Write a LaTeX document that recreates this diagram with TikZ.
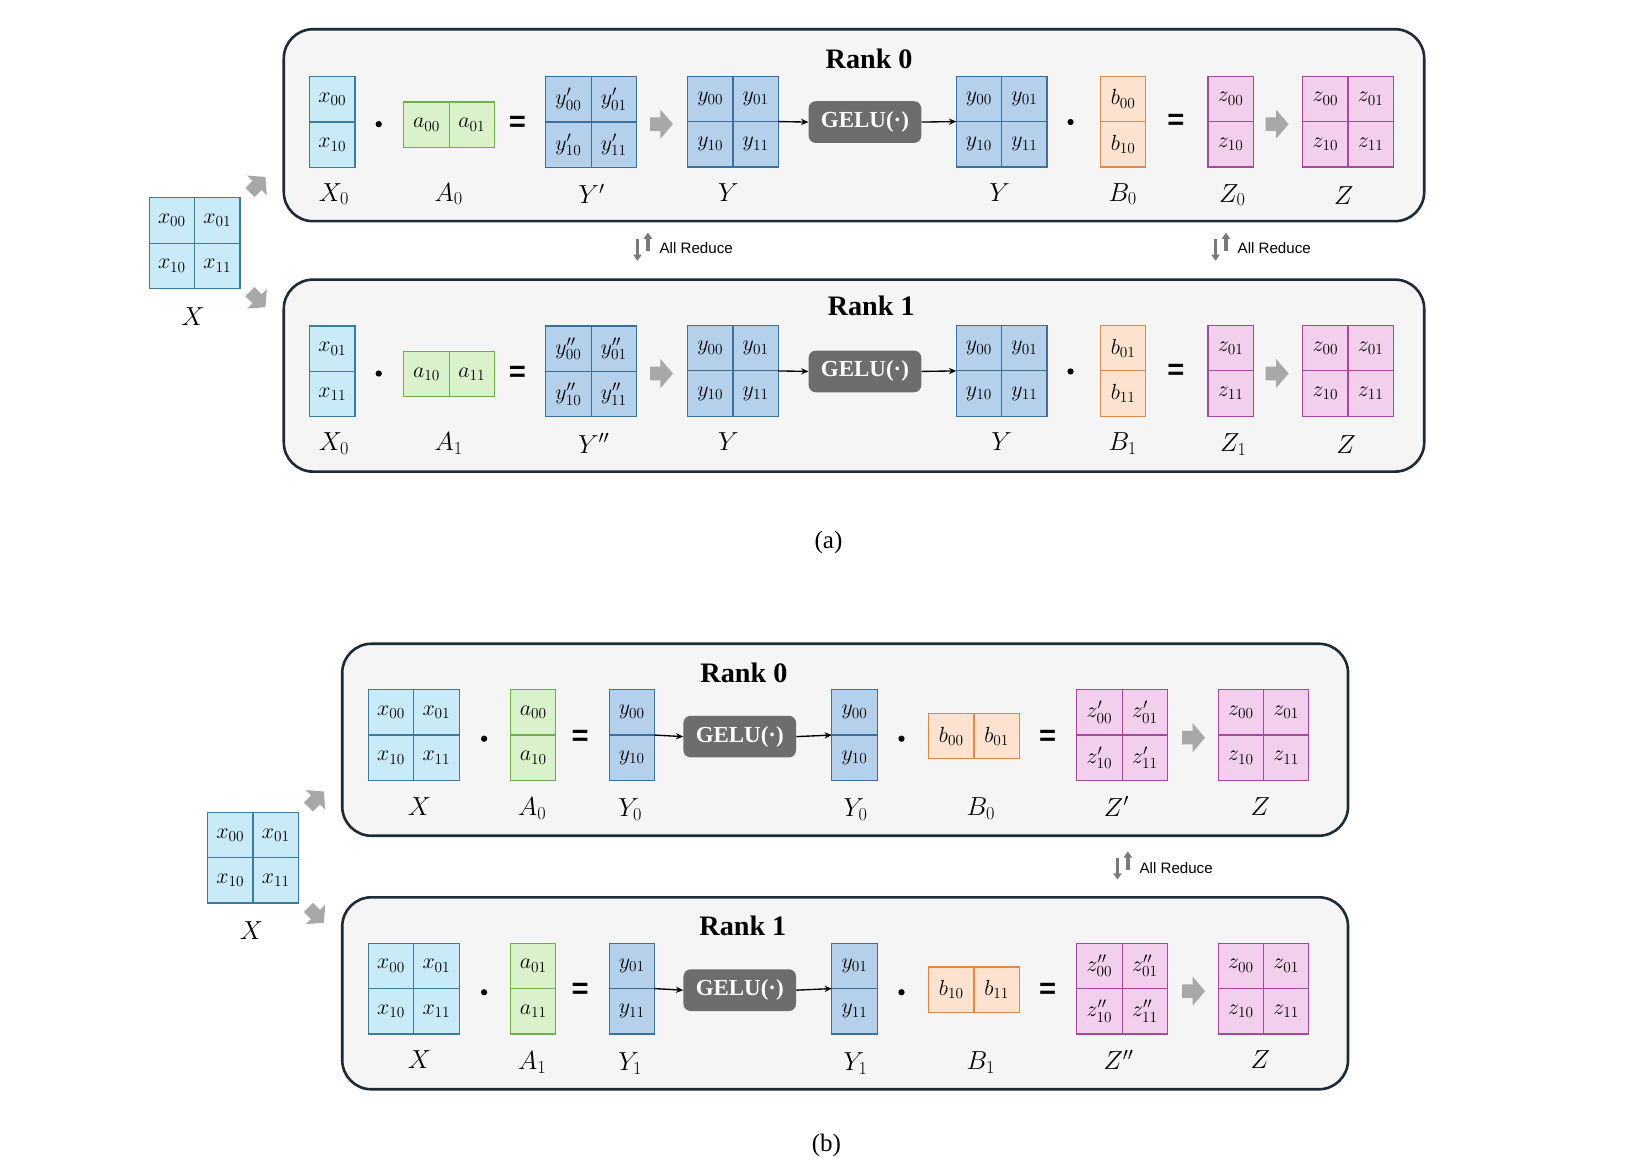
\RequirePackage{fix-cm}
\documentclass[tikz,border=0pt]{standalone}
\usepackage{fontspec}
\setmainfont{Liberation Serif}
\newfontfamily\sansf{Liberation Sans}
\usetikzlibrary{arrows.meta}
\definecolor{cxf}{HTML}{C9EBF7}\definecolor{cxd}{HTML}{3A7C99}
\definecolor{cgf}{HTML}{DAF2CB}\definecolor{cgd}{HTML}{6FAE4C}
\definecolor{cbf}{HTML}{B5D0EA}\definecolor{cbd}{HTML}{3E6F9C}
\definecolor{cof}{HTML}{FCE2CF}\definecolor{cod}{HTML}{E0874A}
\definecolor{cpf}{HTML}{F3CFEE}\definecolor{cpd}{HTML}{A8489C}
\definecolor{geluc}{HTML}{6D6D6D}
\definecolor{boxd}{HTML}{1E2B36}\definecolor{boxf}{HTML}{F5F5F5}
\definecolor{agray}{HTML}{A8A8A8}\definecolor{igray}{HTML}{7A7A7A}
\tikzset{
 mfit/.style={inner sep=0,outer sep=0},
 cell/.style={inner sep=0,minimum width=43.5,minimum height=43.5,line width=1.1,font=\fontsize{21}{24}\selectfont},
 cx/.style={cell,draw=cxd,fill=cxf},
 cg/.style={cell,draw=cgd,fill=cgf},
 cb/.style={cell,draw=cbd,fill=cbf},
 co/.style={cell,draw=cod,fill=cof},
 cp/.style={cell,draw=cpd,fill=cpf},
 lab/.style={font=\fontsize{25}{28}\selectfont,inner sep=0},
 rankbox/.style={draw=boxd,fill=boxf,line width=2.5,rounded corners=28},
 title/.style={font=\bfseries\fontsize{27}{30}\selectfont,inner sep=0},
 gelu/.style={rounded corners=7,fill=geluc,text=white,font=\bfseries\fontsize{22}{24}\selectfont,minimum width=108,minimum height=40,inner sep=0},
 dotn/.style={circle,fill=black,inner sep=0,minimum size=6},
 eqn/.style={font=\sansf\bfseries\fontsize{28}{30}\selectfont,inner sep=0},
 conn/.style={line width=1.3,-{Stealth[length=7,width=6]}},
 aricon/.style={igray,line width=3.2,-{Triangle[width=8,length=6]}},
 artext/.style={font=\sansf\fontsize{14.5}{16}\selectfont,anchor=west,inner sep=0},
 capt/.style={font=\fontsize{24}{28}\selectfont,inner sep=0}
}
\newcommand\blkarr[5]{% name, x, y, angle, scale
 \coordinate (#1) at (#2,#3);
 \fill[agray,shift={(#2,#3)},rotate=#4,scale=#5] (-11,-6.5) -- (-1,-6.5) -- (-1,-14) -- (11,0) -- (-1,14) -- (-1,6.5) -- (-11,6.5) -- cycle;}
\newcommand\sqm[8]{%
 \node[mfit,minimum width=87,minimum height=87] (#1) at (#2,#3) {};
 \begin{scope}[shift={(#2,#3)}]
  \node[#4] (#1-1) at (-21.75,-21.75) {$#5$};
  \node[#4] (#1-2) at (21.75,-21.75) {$#6$};
  \node[#4] (#1-3) at (-21.75,21.75) {$#7$};
  \node[#4] (#1-4) at (21.75,21.75) {$#8$};
 \end{scope}}
\newcommand\vm[6]{%
 \node[mfit,minimum width=43.5,minimum height=87] (#1) at (#2,#3) {};
 \begin{scope}[shift={(#2,#3)}]
  \node[#4] (#1-1) at (0,-21.75) {$#5$};
  \node[#4] (#1-2) at (0,21.75) {$#6$};
 \end{scope}}
\newcommand\hm[6]{%
 \node[mfit,minimum width=87,minimum height=43.5] (#1) at (#2,#3) {};
 \begin{scope}[shift={(#2,#3)}]
  \node[#4] (#1-1) at (-21.75,0) {$#5$};
  \node[#4] (#1-2) at (21.75,0) {$#6$};
 \end{scope}}
\begin{document}
\begin{tikzpicture}[x=1pt,y=-1pt]
\useasboundingbox[fill=white] (0,0) rectangle (1568,1123);
% ================= (a) =================
\sqm{aXin}{186.5}{233}{cx}{x_{00}}{x_{01}}{x_{10}}{x_{11}}
\node[lab] (aXinl) at (185,303) {$X$};
\blkarr{aIn0}{247}{177}{45}{0.95}
\blkarr{aIn1}{247}{287}{-45}{0.95}
% rank 0
\node[rankbox,minimum width=1093,minimum height=184] (aR0) at (818.5,120) {};
\node[title] (aT0) at (833,56) {Rank 0};
\vm{aX0}{318.5}{117}{cx}{x_{00}}{x_{10}}
\node[lab] (aX0l) at (320,186) {$X_0$};
\node[dotn] (aD0) at (363,119) {};
\hm{aA0}{430.5}{119.5}{cg}{a_{00}}{a_{01}}
\node[lab] (aA0l) at (430,186) {$A_0$};
\node[eqn] (aE0) at (496,119) {=};
\sqm{aYp0}{566.5}{117}{cb}{y'_{00}}{y'_{01}}{y'_{10}}{y'_{11}}
\node[lab] (aYp0l) at (567,186) {$Y'$};
\blkarr{aK0}{634}{119}{0}{1}
\sqm{aY0}{702.5}{116.5}{cb}{y_{00}}{y_{01}}{y_{10}}{y_{11}}
\node[lab] (aY0l) at (698,185) {$Y$};
\node[gelu] (aG0) at (829,117) {GELU(·)};
\sqm{aYY0}{960}{116.5}{cb}{y_{00}}{y_{01}}{y_{10}}{y_{11}}
\node[lab] (aYY0l) at (958,185) {$Y$};
\node[dotn] (aD1) at (1026,117) {};
\vm{aBm0}{1076.5}{116.5}{co}{b_{00}}{b_{10}}
\node[lab] (aBm0l) at (1076,186) {$B_0$};
\node[eqn] (aE1) at (1127,117) {=};
\vm{aZs0}{1179.5}{116.5}{cp}{z_{00}}{z_{10}}
\node[lab] (aZs0l) at (1181,187) {$Z_0$};
\blkarr{aK1}{1224}{119}{0}{1}
\sqm{aZ0}{1292}{116.5}{cp}{z_{00}}{z_{01}}{z_{10}}{z_{11}}
\node[lab] (aZ0l) at (1288,187) {$Z$};
\draw[conn] (aY0.east) -- (aG0.west);
\draw[conn] (aG0.east) -- (aYY0.west);
% all reduce (a)
\draw[aricon] (611,229) -- (611,250);
\draw[aricon] (621,241) -- (621,223);
\node[artext] (aAR0) at (632,238) {All Reduce};
\draw[aricon] (1165,229) -- (1165,250);
\draw[aricon] (1175,241) -- (1175,223);
\node[artext] (aAR1) at (1186,238) {All Reduce};
% rank 1
\node[rankbox,minimum width=1093,minimum height=184] (aR1) at (818.5,360) {};
\node[title] (aT1) at (835,293) {Rank 1};
\vm{aX1}{318.5}{356}{cx}{x_{01}}{x_{11}}
\node[lab] (aX1l) at (320,425) {$X_0$};
\node[dotn] (aD2) at (363,358) {};
\hm{aA1}{430.5}{358.5}{cg}{a_{10}}{a_{11}}
\node[lab] (aA1l) at (430,425) {$A_1$};
\node[eqn] (aE2) at (496,358) {=};
\sqm{aYp1}{566.5}{356}{cb}{y''_{00}}{y''_{01}}{y''_{10}}{y''_{11}}
\node[lab] (aYp1l) at (569,425) {$Y''$};
\blkarr{aK2}{634}{358}{0}{1}
\sqm{aY1}{702.5}{355.5}{cb}{y_{00}}{y_{01}}{y_{10}}{y_{11}}
\node[lab] (aY1l) at (698,423) {$Y$};
\node[gelu] (aG1) at (829,356) {GELU(·)};
\sqm{aYY1}{960}{355.5}{cb}{y_{00}}{y_{01}}{y_{10}}{y_{11}}
\node[lab] (aYY1l) at (960,423) {$Y$};
\node[dotn] (aD3) at (1026,356) {};
\vm{aBm1}{1076.5}{355.5}{co}{b_{01}}{b_{11}}
\node[lab] (aBm1l) at (1076,425) {$B_1$};
\node[eqn] (aE3) at (1127,356) {=};
\vm{aZs1}{1179.5}{355.5}{cp}{z_{01}}{z_{11}}
\node[lab] (aZs1l) at (1182,426) {$Z_1$};
\blkarr{aK3}{1224}{358}{0}{1}
\sqm{aZ1}{1292}{355.5}{cp}{z_{00}}{z_{01}}{z_{10}}{z_{11}}
\node[lab] (aZ1l) at (1290,426) {$Z$};
\draw[conn] (aY1.east) -- (aG1.west);
\draw[conn] (aG1.east) -- (aYY1.west);
\node[capt] (capa) at (794,520) {(a)};
% ================= (b) =================
\sqm{bXin}{242.5}{822}{cx}{x_{00}}{x_{01}}{x_{10}}{x_{11}}
\node[lab] (bXinl) at (241,892) {$X$};
\blkarr{bIn0}{303}{766}{45}{0.95}
\blkarr{bIn1}{303}{877}{-45}{0.95}
% rank 0
\node[rankbox,minimum width=964,minimum height=184] (bR0) at (810,709) {};
\node[title] (bT0) at (713,645) {Rank 0};
\sqm{bX0}{396.5}{704.5}{cx}{x_{00}}{x_{01}}{x_{10}}{x_{11}}
\node[lab] (bX0l) at (402,773) {$X$};
\node[dotn] (bD0) at (464,708) {};
\vm{bA0}{511}{704.5}{cg}{a_{00}}{a_{10}}
\node[lab] (bA0l) at (510,775) {$A_0$};
\node[eqn] (bE0) at (556,707) {=};
\vm{bY0}{605.5}{704.5}{cb}{y_{00}}{y_{10}}
\node[lab] (bY0l) at (604,776) {$Y_0$};
\node[gelu] (bG0) at (709,706) {GELU(·)};
\vm{bYY0}{819}{704.5}{cb}{y_{00}}{y_{10}}
\node[lab] (bYY0l) at (820,776) {$Y_0$};
\node[dotn] (bD1) at (864,708) {};
\hm{bBm0}{933.5}{705.5}{co}{b_{00}}{b_{01}}
\node[lab] (bBm0l) at (940,775) {$B_0$};
\node[eqn] (bE1) at (1004,707) {=};
\sqm{bZp0}{1075.5}{704.5}{cp}{z'_{00}}{z'_{01}}{z'_{10}}{z'_{11}}
\node[lab] (bZp0l) at (1070,773) {$Z'$};
\blkarr{bK0}{1144}{707}{0}{1}
\sqm{bZ0}{1211}{704.5}{cp}{z_{00}}{z_{01}}{z_{10}}{z_{11}}
\node[lab] (bZ0l) at (1208,773) {$Z$};
\draw[conn] (bY0.east) -- (bG0.west);
\draw[conn] (bG0.east) -- (bYY0.west);
% all reduce (b)
\draw[aricon] (1071,822) -- (1071,843);
\draw[aricon] (1081,834) -- (1081,816);
\node[artext] (bAR0) at (1092,832) {All Reduce};
% rank 1
\node[rankbox,minimum width=964,minimum height=184] (bR1) at (810,952) {};
\node[title] (bT1) at (712,887) {Rank 1};
\sqm{bX1}{396.5}{947.5}{cx}{x_{00}}{x_{01}}{x_{10}}{x_{11}}
\node[lab] (bX1l) at (402,1016) {$X$};
\node[dotn] (bD2) at (464,951) {};
\vm{bA1}{511}{947.5}{cg}{a_{01}}{a_{11}}
\node[lab] (bA1l) at (510,1018) {$A_1$};
\node[eqn] (bE2) at (556,950) {=};
\vm{bY1}{605.5}{947.5}{cb}{y_{01}}{y_{11}}
\node[lab] (bY1l) at (604,1019) {$Y_1$};
\node[gelu] (bG1) at (709,949) {GELU(·)};
\vm{bYY1}{819}{947.5}{cb}{y_{01}}{y_{11}}
\node[lab] (bYY1l) at (820,1019) {$Y_1$};
\node[dotn] (bD3) at (864,951) {};
\hm{bBm1}{933.5}{948.5}{co}{b_{10}}{b_{11}}
\node[lab] (bBm1l) at (940,1018) {$B_1$};
\node[eqn] (bE3) at (1004,950) {=};
\sqm{bZp1}{1075.5}{947.5}{cp}{z''_{00}}{z''_{01}}{z''_{10}}{z''_{11}}
\node[lab] (bZp1l) at (1072,1016) {$Z''$};
\blkarr{bK1}{1144}{950}{0}{1}
\sqm{bZ1}{1211}{947.5}{cp}{z_{00}}{z_{01}}{z_{10}}{z_{11}}
\node[lab] (bZ1l) at (1208,1016) {$Z$};
\draw[conn] (bY1.east) -- (bG1.west);
\draw[conn] (bG1.east) -- (bYY1.west);
\node[capt] (capb) at (792,1098) {(b)};
\end{tikzpicture}
\end{document}
